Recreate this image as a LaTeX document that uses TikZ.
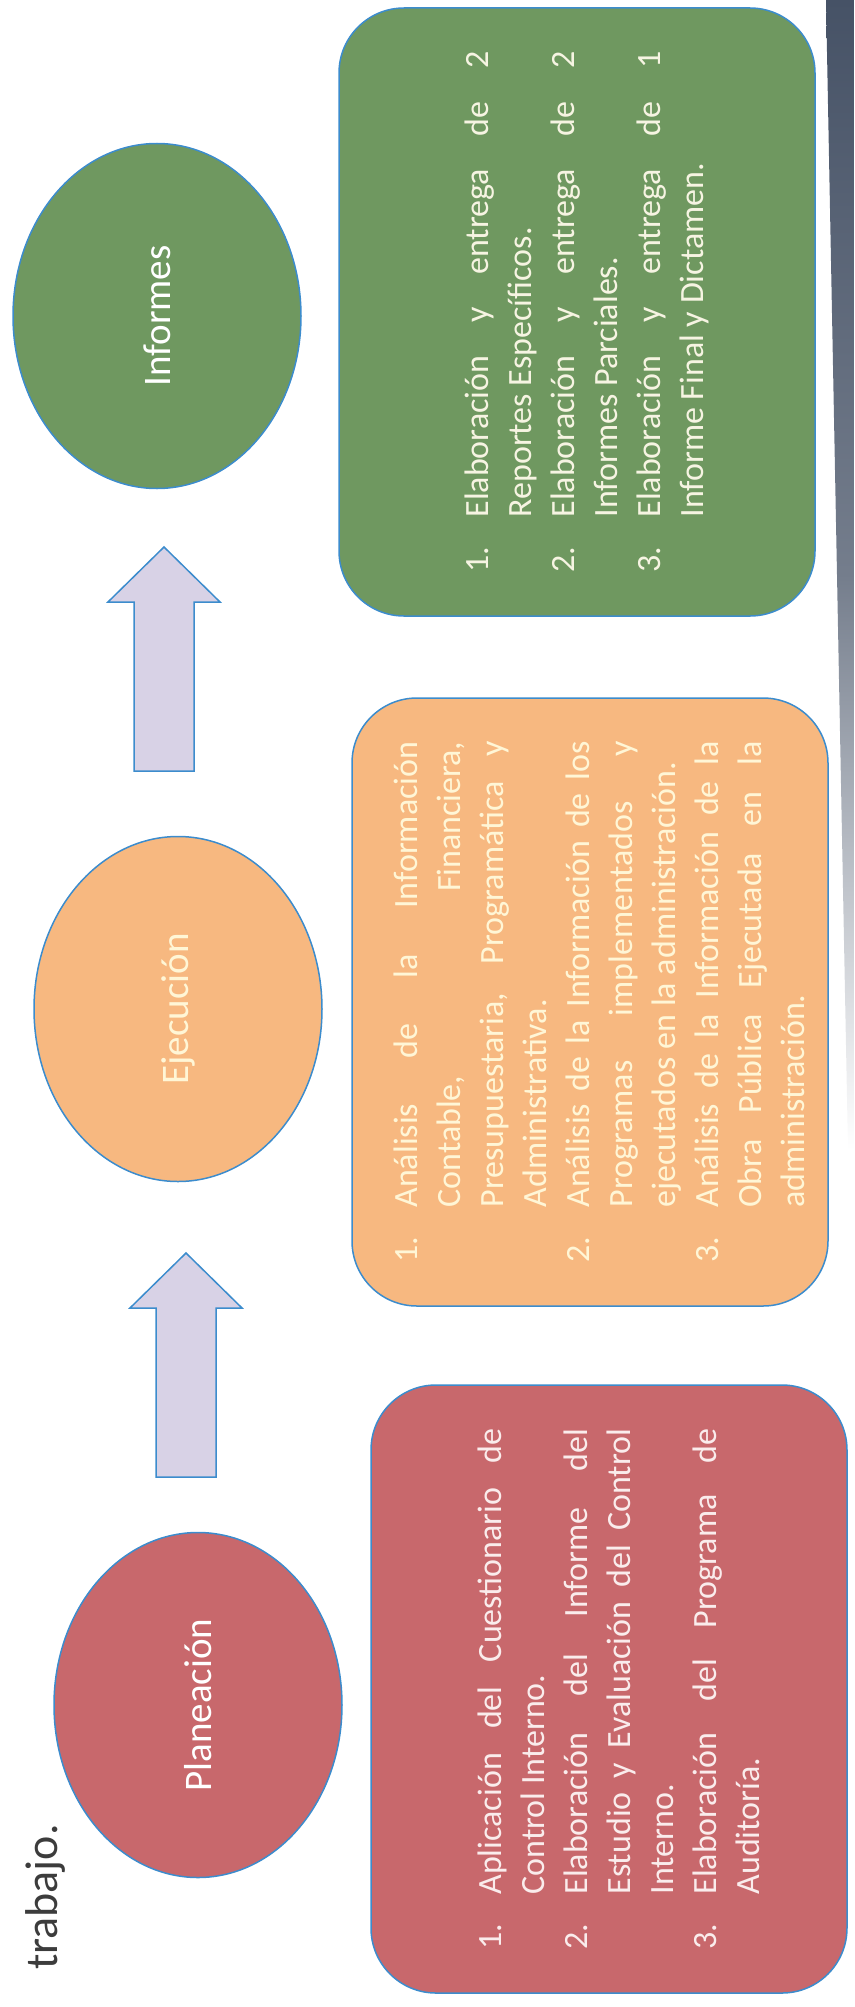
\documentclass[tikz,border=0pt]{standalone}
\usepackage{fontspec}
\setmainfont{Carlito}
\usetikzlibrary{shapes.geometric}

\definecolor{edgeblue}{RGB}{60,140,205}
\definecolor{planfill}{RGB}{200,104,108}
\definecolor{ejecfill}{RGB}{247,184,128}
\definecolor{infofill}{RGB}{111,152,96}
\definecolor{arrowfill}{RGB}{216,210,230}
\definecolor{plantext}{RGB}{250,236,236}
\definecolor{ejectext}{RGB}{255,246,214}
\definecolor{infotext}{RGB}{246,244,226}
\definecolor{trabajogray}{RGB}{60,60,60}
\definecolor{stripdark}{RGB}{70,82,102}

\newcommand{\itm}[2]{\par\noindent\hangindent=55pt\hangafter=1\makebox[55pt][l]{#1}#2}

\tikzset{
  phase/.style={ellipse, draw=edgeblue, line width=1.5pt, rotate=90,
    minimum width=345pt, minimum height=288pt, inner sep=0pt,
    font=\fontsize{39}{47}\selectfont},
  listbox/.style={rectangle, rounded corners=65pt, draw=edgeblue, line width=1.5pt,
    rotate=90, minimum width=608pt, minimum height=476pt, text width=521pt,
    align=justify, inner sep=0pt, font=\fontsize{34}{43}\selectfont},
  blockarrow/.style={draw=edgeblue, line width=1.5pt, fill=arrowfill},
}

\begin{document}
\begin{tikzpicture}[x=1pt, y=-1pt]
\useasboundingbox (0,0) rectangle (854,2007);
\shade[top color=stripdark, bottom color=white, middle color=stripdark!75!white] (826,0) -- (854,0) -- (854,1150) -- (848,1150) -- cycle;

\node[rotate=90, inner sep=0pt, text=trabajogray, font=\fontsize{46}{55}\selectfont] (trabajo) at (45,1897) {trabajo.};

\node[phase, fill=planfill, text=white] (plan) at (198,1705) {Planeación};
\node[phase, fill=ejecfill, text=ejectext] (ejec) at (178,1009) {Ejecución};
\node[phase, fill=infofill, text=white] (info) at (157,316) {Informes};

\foreach \n/\px/\py in {arrA/186/1477, arrB/164/771} {
  \coordinate (\n) at (\px,\py);
  \draw[blockarrow] (\n) ++(-30,0) -- ++(0,-169) -- ++(-26,0) -- ++(56,-55)
    -- ++(56,55) -- ++(-26,0) -- ++(0,169) -- cycle;
}

\node[listbox, fill=planfill, text=plantext] (planlist) at (609,1689) {%
  \itm{1.}{Aplicación del Cuestionario de\linebreak Control Interno.}
  \itm{2.}{Elaboración del Informe del\linebreak Estudio y Evaluación del Control\linebreak Interno.}
  \itm{3.}{Elaboración del Programa de\linebreak Auditoría.}\par};

\node[listbox, fill=ejecfill, text=ejectext] (ejeclist) at (590,1002) {%
  \itm{1.}{Análisis de la Información\linebreak Contable, Financiera,\linebreak Presupuestaria, Programática y\linebreak Administrativa.}
  \itm{2.}{Análisis de la Información de los\linebreak Programas implementados y\linebreak ejecutados en la administración.}
  \itm{3.}{Análisis de la Información de la\linebreak Obra Pública Ejecutada en la\linebreak administración.}\par};

\node[listbox, fill=infofill, text=infotext] (infolist) at (577,312) {%
  \itm{1.}{Elaboración y entrega de 2\linebreak Reportes Específicos.}
  \itm{2.}{Elaboración y entrega de 2\linebreak Informes Parciales.}
  \itm{3.}{Elaboración y entrega de 1\linebreak Informe Final y Dictamen.}\par};
\end{tikzpicture}
\end{document}
